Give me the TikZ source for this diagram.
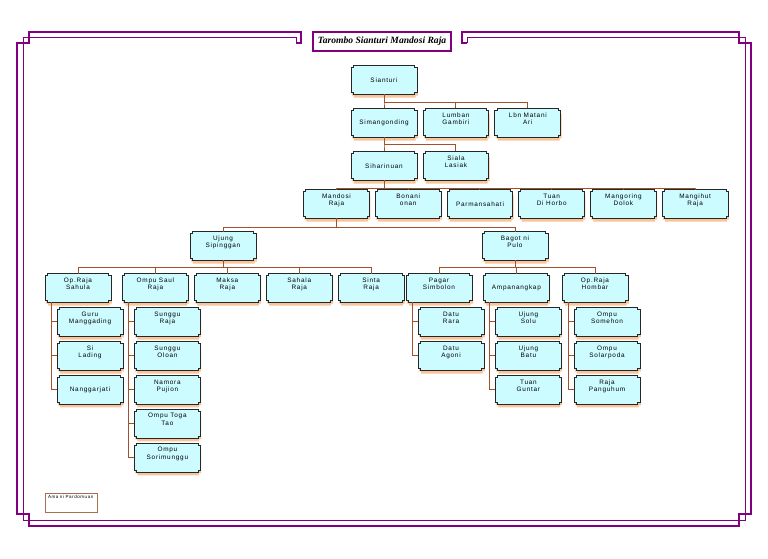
\documentclass[tikz,border=0pt]{standalone}
\usepackage{fontspec}
\setmainfont{Liberation Serif}
\newfontfamily\boxfont[LetterSpace=12]{Liberation Sans}
\usepackage{tikz}
\usetikzlibrary{positioning,shadows}

\definecolor{boxfill}{HTML}{CCFCFF}
\definecolor{linkbrown}{HTML}{A0522D}
\definecolor{framepurple}{HTML}{800080}
\definecolor{shadowpeach}{HTML}{F9C49A}
\definecolor{legendbrown}{HTML}{A8704E}

% box with small stepped corners
\makeatletter
\newdimen\nbxa \newdimen\nbxb \newdimen\nbya \newdimen\nbyb
\def\nbcut{1.6pt}
\pgfdeclareshape{notchbox}{
  \inheritsavedanchors[from=rectangle]
  \inheritanchorborder[from=rectangle]
  \inheritanchor[from=rectangle]{center}
  \inheritanchor[from=rectangle]{north}
  \inheritanchor[from=rectangle]{south}
  \inheritanchor[from=rectangle]{east}
  \inheritanchor[from=rectangle]{west}
  \inheritanchor[from=rectangle]{north west}
  \inheritanchor[from=rectangle]{north east}
  \inheritanchor[from=rectangle]{south west}
  \inheritanchor[from=rectangle]{south east}
  \inheritanchor[from=rectangle]{base}
  \backgroundpath{
    \southwest \nbxa=\pgf@x \nbya=\pgf@y
    \northeast \nbxb=\pgf@x \nbyb=\pgf@y
    \pgfpathmoveto{\pgfpoint{\nbxa}{\nbya+\nbcut}}
    \pgfpathlineto{\pgfpoint{\nbxa}{\nbyb-\nbcut}}
    \pgfpathlineto{\pgfpoint{\nbxa+\nbcut}{\nbyb-\nbcut}}
    \pgfpathlineto{\pgfpoint{\nbxa+\nbcut}{\nbyb}}
    \pgfpathlineto{\pgfpoint{\nbxb-\nbcut}{\nbyb}}
    \pgfpathlineto{\pgfpoint{\nbxb-\nbcut}{\nbyb-\nbcut}}
    \pgfpathlineto{\pgfpoint{\nbxb}{\nbyb-\nbcut}}
    \pgfpathlineto{\pgfpoint{\nbxb}{\nbya+\nbcut}}
    \pgfpathlineto{\pgfpoint{\nbxb-\nbcut}{\nbya+\nbcut}}
    \pgfpathlineto{\pgfpoint{\nbxb-\nbcut}{\nbya}}
    \pgfpathlineto{\pgfpoint{\nbxa+\nbcut}{\nbya}}
    \pgfpathlineto{\pgfpoint{\nbxa+\nbcut}{\nbya+\nbcut}}
    \pgfpathclose
  }
}
\makeatother

\begin{document}
\begin{tikzpicture}[
    x=0.75pt, y=-0.75pt,
    box/.style={notchbox, draw=black!85, line width=0.7pt, fill=boxfill, align=center,
        minimum width=48.75pt, minimum height=21pt, inner sep=1pt,
        font=\boxfont\fontsize{4.8}{5.5}\selectfont,
        drop shadow={shadow xshift=0.6pt, shadow yshift=-2.4pt, fill=shadowpeach, draw=none, opacity=1}},
    twoline/.style={text depth=6.5pt},
    link/.style={draw=linkbrown, line width=0.75pt},
    thickframe/.style={draw=framepurple, line width=1.2pt},
    thinframe/.style={draw=framepurple, line width=0.7pt}
]
\useasboundingbox (0,0) rectangle (768,559);

% frame
\draw[thickframe] (296,43) -- (301,43) -- (301,32) -- (29,32) -- (29,43) -- (17,43) -- (17,514)
    -- (29,514) -- (29,526) -- (739,526) -- (739,514) -- (751,514) -- (751,43) -- (739,43)
    -- (739,32) -- (462,32) -- (462,43) -- (467,43);
\draw[thinframe] (296,43) -- (296,37) -- (23,37) -- (23,520) -- (745,520) -- (745,37)
    -- (467,37) -- (467,43);
\node[draw=framepurple, line width=1.2pt, fill=white, minimum width=103.5pt, minimum height=14.25pt,
    font=\fontsize{7.2}{8}\selectfont\bfseries\itshape] (title) at (382,41.5) {Tarombo Sianturi Mandosi Raja};

% generations
\node[box] (sianturi) at (384,80) {Sianturi};
\node[box, below=10.5pt of sianturi] (simangonding) {Simangonding};
\node[box, twoline, right=4.5pt of simangonding] (lumban) {Lumban\\Gambiri};
\node[box, twoline, right=4.5pt of lumban] (lbnmatani) {Lbn Matani\\Ari};
\node[box, below=10.5pt of simangonding] (siharinuan) {Siharinuan};
\node[box, twoline, right=4.5pt of siharinuan] (siala) {Siala\\Lasiak};

\node[box, twoline] (mandosi) at (336.5,204) {Mandosi\\Raja};
\node[box, twoline, right=4.35pt of mandosi] (bonani) {Bonani\\onan};
\node[box, right=4.35pt of bonani] (parmansahati) {Parmansahati};
\node[box, twoline, right=4.35pt of parmansahati] (tuan) {Tuan\\Di Horbo};
\node[box, twoline, right=4.35pt of tuan] (mangoring) {Mangoring\\Dolok};
\node[box, twoline, right=4.35pt of mangoring] (mangihut) {Mangihut\\Raja};

\node[box, twoline] (ujung) at (223,246) {Ujung\\Sipinggan};
\node[box, twoline] (bagot) at (515,246) {Bagot ni\\Pulo};

\node[box, twoline] (sahula) at (78,288) {Op.Raja\\Sahula};
\node[box, twoline, right=8.6pt of sahula] (ompusaul) {Ompu Saul\\Raja};
\node[box, twoline, right=4.5pt of ompusaul] (maksa) {Maksa\\Raja};
\node[box, twoline, right=4.5pt of maksa] (sahala) {Sahala\\Raja};
\node[box, twoline, right=4.5pt of sahala] (sinta) {Sinta\\Raja};

\node[box, twoline] (pagar) at (439,288) {Pagar\\Simbolon};
\node[box, right=8.6pt of pagar] (ampanangkap) {Ampanangkap};
\node[box, twoline, right=9.5pt of ampanangkap] (hombar) {Op.Raja\\Hombar};

% children lists
\node[box, twoline, below=3.75pt of sahula, xshift=9pt] (guru) {Guru\\Manggading};
\node[box, twoline, below=3.75pt of guru] (silading) {Si\\Lading};
\node[box, below=3.75pt of silading] (nanggarjati) {Nanggarjati};

\node[box, twoline, below=3.75pt of ompusaul, xshift=9pt] (sunggu) {Sunggu\\Raja};
\node[box, twoline, below=3.75pt of sunggu] (oloan) {Sunggu\\Oloan};
\node[box, twoline, below=3.75pt of oloan] (namora) {Namora\\Pujion};
\node[box, twoline, below=3.75pt of namora] (togatao) {Ompu Toga\\Tao};
\node[box, twoline, below=3.75pt of togatao] (sorimunggu) {Ompu\\Sorimunggu};

\node[box, twoline, below=3.75pt of pagar, xshift=9pt] (datura) {Datu\\Rara};
\node[box, twoline, below=3.75pt of datura] (datuagoni) {Datu\\Agoni};

\node[box, twoline, below=3.75pt of ampanangkap, xshift=9pt] (solu) {Ujung\\Solu};
\node[box, twoline, below=3.75pt of solu] (batu) {Ujung\\Batu};
\node[box, twoline, below=3.75pt of batu] (guntar) {Tuan\\Guntar};

\node[box, twoline, below=3.75pt of hombar, xshift=9pt] (somehon) {Ompu\\Somehon};
\node[box, twoline, below=3.75pt of somehon] (solarpoda) {Ompu\\Solarpoda};
\node[box, twoline, below=3.75pt of solarpoda] (panguhum) {Raja\\Panguhum};

\node[draw=legendbrown, line width=0.6pt, fill=white, anchor=north west, text width=35pt,
    minimum height=14.25pt, inner xsep=2pt, inner ysep=1pt, text height=2.5pt, text depth=9pt,
    font=\boxfont\fontsize{3.4}{3.8}\selectfont] (legend) at (45,493) {Ama ni Pardomuan};

% links
\draw[link] (sianturi.south) -- ++(0,8) -| (simangonding.north);
\draw[link] (sianturi.south) -- ++(0,8) -| (lumban.north);
\draw[link] (sianturi.south) -- ++(0,8) -| (lbnmatani.north);
\draw[link] (simangonding.south) -- ++(0,7) -| (siharinuan.north);
\draw[link] (simangonding.south) -- ++(0,7) -| (siala.north);
\draw[link] (siharinuan.south) -- ++(0,8) -| (mandosi.north);
\draw[link] (siharinuan.south) -- ++(0,8) -| (bonani.north);
\draw[link] (siharinuan.south) -- ++(0,8) -| (parmansahati.north);
\draw[link] (siharinuan.south) -- ++(0,8) -| (tuan.north);
\draw[link] (siharinuan.south) -- ++(0,8) -| (mangoring.north);
\draw[link] (siharinuan.south) -- ++(0,8) -| (mangihut.north);
\draw[link] (mandosi.south) -- ++(0,9) -| (ujung.north);
\draw[link] (mandosi.south) -- ++(0,9) -| (bagot.north);
\draw[link] (ujung.south) -- ++(0,7) -| (sahula.north);
\draw[link] (ujung.south) -- ++(0,7) -| (ompusaul.north);
\draw[link] (ujung.south) -- ++(0,7) -| (maksa.north);
\draw[link] (ujung.south) -- ++(0,7) -| (sahala.north);
\draw[link] (ujung.south) -- ++(0,7) -| (sinta.north);
\draw[link] (bagot.south) -- ++(0,7) -| (pagar.north);
\draw[link] (bagot.south) -- ++(0,7) -| (ampanangkap.north);
\draw[link] (bagot.south) -- ++(0,7) -| (hombar.north);

\draw[link] ([xshift=4.5pt]sahula.south west) |- (guru.west);
\draw[link] ([xshift=4.5pt]sahula.south west) |- (silading.west);
\draw[link] ([xshift=4.5pt]sahula.south west) |- (nanggarjati.west);
\draw[link] ([xshift=4.5pt]ompusaul.south west) |- (sunggu.west);
\draw[link] ([xshift=4.5pt]ompusaul.south west) |- (oloan.west);
\draw[link] ([xshift=4.5pt]ompusaul.south west) |- (namora.west);
\draw[link] ([xshift=4.5pt]ompusaul.south west) |- (togatao.west);
\draw[link] ([xshift=4.5pt]ompusaul.south west) |- (sorimunggu.west);
\draw[link] ([xshift=4.5pt]pagar.south west) |- (datura.west);
\draw[link] ([xshift=4.5pt]pagar.south west) |- (datuagoni.west);
\draw[link] ([xshift=4.5pt]ampanangkap.south west) |- (solu.west);
\draw[link] ([xshift=4.5pt]ampanangkap.south west) |- (batu.west);
\draw[link] ([xshift=4.5pt]ampanangkap.south west) |- (guntar.west);
\draw[link] ([xshift=4.5pt]hombar.south west) |- (somehon.west);
\draw[link] ([xshift=4.5pt]hombar.south west) |- (solarpoda.west);
\draw[link] ([xshift=4.5pt]hombar.south west) |- (panguhum.west);
\end{tikzpicture}
\end{document}
